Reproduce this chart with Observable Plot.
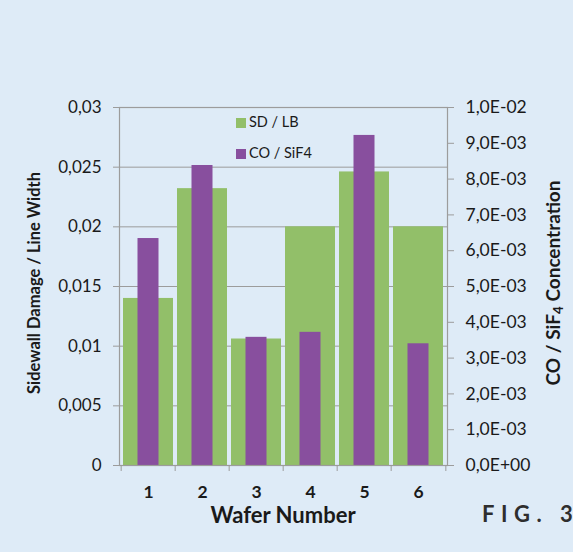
<!DOCTYPE html>
<html><head><meta charset="utf-8">
<script src="https://cdn.jsdelivr.net/npm/d3@7"></script>
<script src="https://cdn.jsdelivr.net/npm/@observablehq/plot@0.6"></script>
<style>
html,body{margin:0;padding:0;background:#deebf7;}
#wrap{position:relative;width:573px;height:552px;overflow:hidden;font-family:Lato,"Open Sans",sans-serif;color:#1a1a1a;}
#wrap svg{position:absolute;left:0;top:0;}
.ov{position:absolute;white-space:nowrap;line-height:1;}
.rot{transform:translate(-50%,-50%) rotate(-90deg);}
.sw{display:inline-block;width:10px;height:10px;vertical-align:middle;margin-right:3px;}
</style></head>
<body><div id="wrap"></div>
<script>
const wafers = ["1","2","3","4","5","6"];
const sdLb   = [0.0140, 0.0232, 0.0106, 0.0200, 0.0246, 0.0200];
const coSif4 = [0.00634, 0.00838, 0.00358, 0.00372, 0.00922, 0.00340];
const leftTicks = [0, 0.005, 0.01, 0.015, 0.02, 0.025, 0.03];
const leftTickLabels = ["0","0,005","0,01","0,015","0,02","0,025","0,03"];
const rightTicks = [0,0.001,0.002,0.003,0.004,0.005,0.006,0.007,0.008,0.009,0.01];
const rightTickLabels = ["0,0E+00","1,0E-03","2,0E-03","3,0E-03","4,0E-03","5,0E-03","6,0E-03","7,0E-03","8,0E-03","9,0E-03","1,0E-02"];
const seriesNames = ["SD / LB", "CO / SiF4"];
const colors = ["#92bf69", "#884f9e"];

const ratio = 0.03 / 0.01;
const data = wafers.map((w, i) => ({w, sd: sdLb[i], co: coSif4[i]}));
const leftMap = new Map(leftTicks.map((t, i) => [t, leftTickLabels[i]]));
const rightVals = rightTicks.map(t => t * ratio);
const rightMap = new Map(rightVals.map((t, i) => [t, rightTickLabels[i]]));

const W = 573, H = 552, mL = 119, mR = 126, mT = 107, mB = 87;
const step = (W - mL - mR) / wafers.length;
const grey = "#9c9c9c";

const chart = Plot.plot({
  width: W, height: H,
  marginLeft: mL, marginRight: mR, marginTop: mT, marginBottom: mB,
  style: {background: "transparent", fontFamily: "Lato, 'Open Sans', sans-serif", color: "#1a1a1a"},
  x: {domain: wafers, paddingInner: 0.07, paddingOuter: 0.035, axis: null},
  y: {domain: [0, 0.03], axis: null},
  marks: [
    Plot.ruleY(leftTicks, {stroke: grey, strokeWidth: 1}),
    Plot.barY(data, {x: "w", y: "sd", fill: colors[0]}),
    Plot.barY(data, {x: "w", y: d => d.co * ratio, fill: colors[1], insetLeft: 14.5, insetRight: 14.5}),
    Plot.frame({stroke: grey, strokeWidth: 1.2}),
    Plot.axisY(leftTicks, {anchor: "left", tickSize: 6, tickPadding: 12, stroke: grey, fontSize: 17,
      tickFormat: d => leftMap.get(d), label: null}),
    Plot.axisY(rightVals, {anchor: "right", tickSize: 6, tickPadding: 12, stroke: grey, fontSize: 17.5,
      tickFormat: d => rightMap.get(d), label: null}),
    Plot.axisX(wafers, {anchor: "bottom", tickSize: 6, dx: -step / 2, stroke: grey, text: null, label: null}),
    Plot.axisX([wafers[wafers.length - 1]], {anchor: "bottom", tickSize: 6, dx: step / 2, stroke: grey, text: null, label: null}),
    Plot.axisX(wafers, {anchor: "bottom", tickSize: 0, tickPadding: 20, fontSize: 17.5, fontWeight: "bold", label: null})
  ]
});
const wrap = document.getElementById("wrap");
wrap.appendChild(chart);

function ov(html, css, cls) {
  const d = document.createElement("div");
  d.className = "ov" + (cls ? " " + cls : "");
  d.innerHTML = html;
  Object.assign(d.style, css);
  wrap.appendChild(d);
}
// legend
ov(`<span class="sw" style="background:${colors[0]}"></span>${seriesNames[0]}`, {left: "236px", top: "115px", fontSize: "14.5px"});
ov(`<span class="sw" style="background:${colors[1]}"></span>CO / SiF4`, {left: "236px", top: "146px", fontSize: "14.5px"});
// axis titles
ov("Sidewall Damage / Line Width", {left: "34px", top: "283px", fontSize: "16.5px", fontWeight: "bold"}, "rot");
ov("CO / SiF<sub style='font-size:0.7em;vertical-align:-0.25em'>4</sub> Concentration", {left: "554px", top: "283px", fontSize: "19px", fontWeight: "bold"}, "rot");
ov("Wafer Number", {left: "283px", top: "515px", fontSize: "22px", fontWeight: "bold", transform: "translate(-50%,-50%)"});
ov("<span style='letter-spacing:6.5px'>FIG. </span>3", {left: "482px", top: "514px", fontSize: "22px", fontWeight: "bold", color: "#2e2e2e", transform: "translateY(-50%)"});
</script>
</body></html>
